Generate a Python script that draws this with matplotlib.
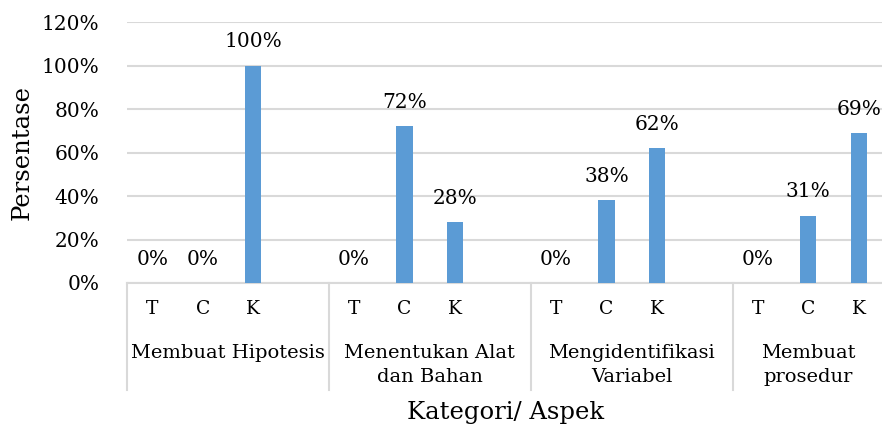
import matplotlib
matplotlib.use("Agg")
import matplotlib.pyplot as plt
import matplotlib.transforms as mtransforms

groups = ["Membuat Hipotesis", "Menentukan Alat\ndan Bahan", "Mengidentifikasi\nVariabel", "Membuat\nprosedur"]
subcats = ["T", "C", "K"]
values_T = [0, 0, 0, 0]
values_C = [0, 72, 38, 31]
values_K = [100, 28, 62, 69]
yticks = [0, 20, 40, 60, 80, 100, 120]

plt.rcParams['font.family'] = ['DejaVu Serif']
W, H = 882, 426
fig = plt.figure(figsize=(W / 100, H / 100), dpi=100)
left, right, top, bottom = 127, 884, 22, 283
ax = fig.add_axes([left / W, (H - bottom) / H, (right - left) / W, (bottom - top) / H])

bar_color = "#5B9BD5"
grid_color = "#D9D9D9"
text_color = "#000000"

xs, vals, labels = [], [], []
for g in range(len(groups)):
    for s, series in enumerate([values_T, values_C, values_K]):
        xs.append(g * 4 + s)
        vals.append(series[g])
        labels.append(subcats[s])

ax.bar(xs, vals, width=0.32, color=bar_color, zorder=3)
for x, v in zip(xs, vals):
    ax.annotate(f"{v}%", (x, v), xytext=(0, 17.0), textcoords="offset points",
                ha="center", va="center", fontsize=14.5, color=text_color, zorder=4)

ax.set_xlim(-0.5, 14.5)
ax.set_ylim(0, 120)
ax.set_yticks(yticks)
ax.set_yticklabels([f"{t}%" for t in yticks], fontsize=14.5, color=text_color)
ax.yaxis.grid(True, color=grid_color, linewidth=1.5, zorder=0)
ax.set_axisbelow(True)
ax.tick_params(axis="y", length=0, pad=20)
ax.set_xticks(xs)
ax.set_xticklabels(labels, fontsize=13.5, color=text_color)
ax.tick_params(axis="x", length=0, pad=12)
for sp in ["left", "right", "top"]:
    ax.spines[sp].set_visible(False)
ax.spines["bottom"].set_color(grid_color)
ax.spines["bottom"].set_linewidth(1.5)

trans = mtransforms.blended_transform_factory(ax.transData, ax.transAxes)
ph = bottom - top
sep_bottom = -(390 - bottom) / ph
for xsep in [-0.5, 3.5, 7.5, 11.5, 14.5]:
    ax.plot([xsep, xsep], [0, sep_bottom], transform=trans, color=grid_color,
            linewidth=1.5, clip_on=False)

centers = [1.5, 5.5, 9.5, 13.0]
for c, g in zip(centers, groups):
    ax.text(c, -(344 - bottom) / ph, g, transform=trans, ha="center", va="top",
            fontsize=14, color=text_color, linespacing=1.45)

fig.text(506 / W, 1 - 412 / H, "Kategori/ Aspek", ha="center", va="center",
         fontsize=17.5, color=text_color)
fig.text(22 / W, 1 - 152 / H, "Persentase", ha="center", va="center", rotation=90,
         fontsize=17.5, color=text_color)

fig.savefig("out.png", dpi=100)
